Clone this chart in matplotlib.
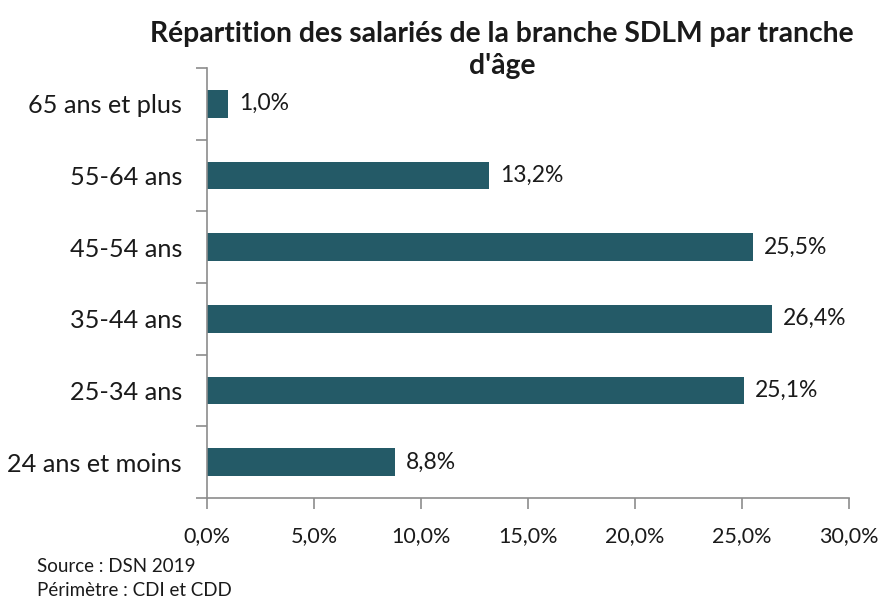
import matplotlib
matplotlib.use("Agg")
import matplotlib.pyplot as plt
from matplotlib.ticker import FixedLocator

plt.rcParams['font.family'] = ['Lato', 'DejaVu Sans']

# data
categories = ['24 ans et moins', '25-34 ans', '35-44 ans', '45-54 ans', '55-64 ans', '65 ans et plus']
values = [8.8, 25.1, 26.4, 25.5, 13.2, 1.0]
xticks = [0, 5, 10, 15, 20, 25, 30]

bar_color = '#245A67'
axis_color = '#8C8C8C'

def fr(v):
    return ('%.1f%%' % v).replace('.', ',')

fig = plt.figure(figsize=(8.82, 5.98), dpi=100)
ax = fig.add_axes([207/882, 1-498/598, (849-207)/882, (498-68)/598])

ypos = list(range(len(categories)))
ax.barh(ypos, values, height=0.39, color=bar_color)

for y, v in zip(ypos, values):
    ax.text(v + 0.5, y, fr(v), va='center', ha='left', fontsize=16.5, color='#1a1a1a')

ax.set_xlim(0, 30)
ax.set_ylim(-0.5, len(categories) - 0.5)

ax.set_xticks(xticks)
ax.set_xticklabels([fr(t) for t in xticks], fontsize=15.5, color='#1a1a1a')
ax.set_yticks(ypos)
ax.set_yticklabels(categories, fontsize=18.2, color='#1a1a1a')
ax.tick_params(axis='y', which='major', length=0, pad=18)
# ticks sit between the categories
ax.yaxis.set_minor_locator(FixedLocator([i - 0.5 for i in range(len(categories) + 1)]))
ax.tick_params(axis='y', which='minor', length=8, color=axis_color, width=1.2, direction='out')
ax.tick_params(axis='x', which='major', length=8, color=axis_color, width=1.2, pad=12)

for s in ['top', 'right']:
    ax.spines[s].set_visible(False)
for s in ['left', 'bottom']:
    ax.spines[s].set_color(axis_color)
    ax.spines[s].set_linewidth(1.2)

fig.text(502/882, 1-50/598, "Répartition des salariés de la branche SDLM par tranche\nd'âge",
         ha='center', va='center', fontsize=20.3, fontweight='bold', color='#1a1a1a', linespacing=1.3)

fig.text(37/882, 1-566/598, 'Source : DSN 2019', fontsize=13.5, va='center', color='#1a1a1a')
fig.text(37/882, 1-591/598, 'Périmètre : CDI et CDD', fontsize=13.5, va='center', color='#1a1a1a')

fig.savefig('out.png', dpi=100)
